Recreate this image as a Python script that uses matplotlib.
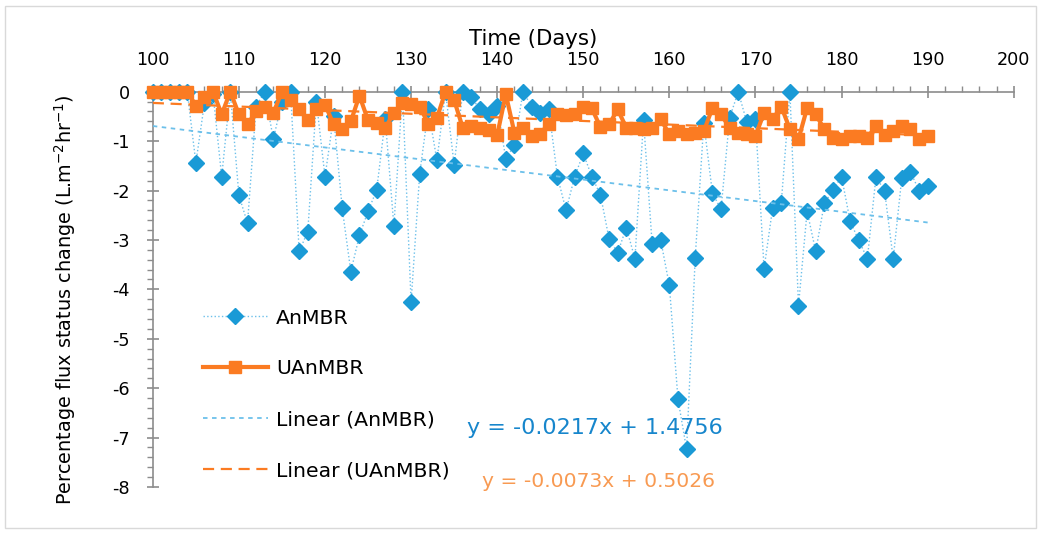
import matplotlib

matplotlib.use("Agg")
import matplotlib.pyplot as plt
import numpy as np
from matplotlib.patches import Rectangle
from matplotlib.ticker import MultipleLocator

plt.rcParams["font.family"] = ["DejaVu Sans"]
plt.rcParams["axes.unicode_minus"] = False

# Days of operation (one sample a day)
days = list(range(100, 191))

anmbr = [
    0, 0, 0, 0, 0, -1.44, -0.23, -0.05, -1.72, 0,
    -2.10, -2.66, -0.30, 0, -0.96, -0.20, 0, -3.23, -2.83, -0.20,
    -1.72, -0.50, -2.36, -3.64, -2.91, -2.42, -1.99, -0.56, -2.72, 0,
    -4.26, -1.66, -0.36, -1.39, 0, -1.48, 0, -0.11, -0.36, -0.45,
    -0.28, -1.36, -1.08, 0, -0.30, -0.43, -0.36, -1.72, -2.40, -1.72,
    -1.25, -1.72, -2.09, -2.98, -3.26, -2.75, -3.38, -0.58, -3.08, -3.01,
    -3.92, -6.22, -7.24, -3.37, -0.63, -2.05, -2.38, -0.53, 0, -0.62,
    -0.55, -3.58, -2.35, -2.25, 0, -4.33, -2.42, -3.23, -2.26, -1.99,
    -1.72, -2.62, -3.01, -3.38, -1.72, -2.01, -3.38, -1.74, -1.62, -2.00,
    -1.90,
]

uanmbr = [
    0, 0, 0, 0, 0, -0.28, -0.10, 0, -0.46, 0,
    -0.46, -0.66, -0.40, -0.30, -0.43, 0, -0.17, -0.35, -0.58, -0.35,
    -0.26, -0.66, -0.76, -0.60, -0.08, -0.58, -0.63, -0.73, -0.43, -0.22,
    -0.25, -0.30, -0.65, -0.53, 0, -0.17, -0.73, -0.70, -0.73, -0.78,
    -0.88, -0.05, -0.83, -0.73, -0.90, -0.85, -0.65, -0.46, -0.48, -0.46,
    -0.30, -0.34, -0.72, -0.66, -0.36, -0.73, -0.73, -0.76, -0.73, -0.56,
    -0.86, -0.80, -0.86, -0.83, -0.80, -0.33, -0.46, -0.73, -0.83, -0.86,
    -0.89, -0.43, -0.56, -0.30, -0.76, -0.96, -0.33, -0.46, -0.76, -0.93,
    -0.95, -0.89, -0.89, -0.93, -0.70, -0.88, -0.80, -0.70, -0.76, -0.95,
    -0.89,
]

# Excel trendline coefficients (slope, intercept) as printed on the chart
fit_anmbr = (-0.0217, 1.4756)
fit_uanmbr = (-0.0073, 0.5026)

BLUE = "#1a9ad6"
BLUE_LIGHT = "#6cc0ea"
ORANGE = "#fb7b22"
ORANGE_TXT = "#f89a52"
AXIS = "#8c8c8c"

fig = plt.figure(figsize=(10.41, 5.34), dpi=100)
ax = fig.add_axes([0.1468, 0.088, 0.827, 0.7403])

x = np.array(days)
ax.plot(x, anmbr, color=BLUE_LIGHT, linestyle=":", linewidth=1.0,
        marker="D", markersize=7.8, markerfacecolor=BLUE, markeredgecolor=BLUE,
        clip_on=False, zorder=3, label="AnMBR")
ax.plot(x, uanmbr, color=ORANGE, linewidth=3.0,
        marker="s", markersize=8.8, markerfacecolor=ORANGE, markeredgecolor=ORANGE,
        clip_on=False, zorder=4, label="UAnMBR")

xt = np.array([days[0], days[-1]])
ax.plot(xt, fit_anmbr[0] * xt + fit_anmbr[1], color=BLUE_LIGHT, linestyle=(0, (2.5, 2.5)),
        linewidth=1.3, zorder=5, label="Linear (AnMBR)")
ax.plot(xt, fit_uanmbr[0] * xt + fit_uanmbr[1], color=ORANGE, linestyle=(0, (5, 3)),
        linewidth=1.6, zorder=5, label="Linear (UAnMBR)")

ax.text(136.5, -6.8, f"y = {fit_anmbr[0]}x + {fit_anmbr[1]}", color="#1786cc",
        fontsize=16, ha="left", va="center")
ax.text(138.2, -7.88, f"y = {fit_uanmbr[0]}x + {fit_uanmbr[1]}", color=ORANGE_TXT,
        fontsize=14.6, ha="left", va="center")

ax.set_xlim(100, 200)
ax.set_ylim(-8, 0)
ax.xaxis.tick_top()
ax.xaxis.set_label_position("top")
ax.xaxis.set_major_locator(MultipleLocator(10))
ax.xaxis.set_minor_locator(MultipleLocator(2))
ax.yaxis.set_major_locator(MultipleLocator(1))
ax.yaxis.set_minor_locator(MultipleLocator(0.2))

for side in ("right", "bottom"):
    ax.spines[side].set_visible(False)
for side in ("left", "top"):
    ax.spines[side].set_color(AXIS)
    ax.spines[side].set_linewidth(1.2)

ax.tick_params(axis="both", which="major", direction="inout", length=9, width=1.2,
               color=AXIS, labelsize=12.7, labelcolor="black")
ax.tick_params(axis="both", which="minor", direction="out", length=4.5, width=1.0, color=AXIS)
ax.tick_params(axis="x", which="major", pad=11.5)
ax.tick_params(axis="y", which="major", pad=12)

ax.set_xlabel("Time (Days)", fontsize=15.3, labelpad=5, x=0.4416)
ax.set_ylabel("Percentage flux status change (L.m$^{-2}$hr$^{-1}$)", fontsize=13.9)
ax.yaxis.set_label_coords(-0.087, 0.473)

ax.legend(loc="upper left", bbox_to_anchor=(0.181, 0.449), bbox_transform=fig.transFigure,
          frameon=False, fontsize=14.7, handlelength=3.2, labelspacing=1.56,
          handletextpad=0.4, borderpad=0.2)

fig.patches.append(Rectangle((0.005, 0.012), 0.99, 0.976, transform=fig.transFigure,
                             fill=False, edgecolor="#d9d9d9", linewidth=1.0))

fig.savefig("out.png", dpi=100)
